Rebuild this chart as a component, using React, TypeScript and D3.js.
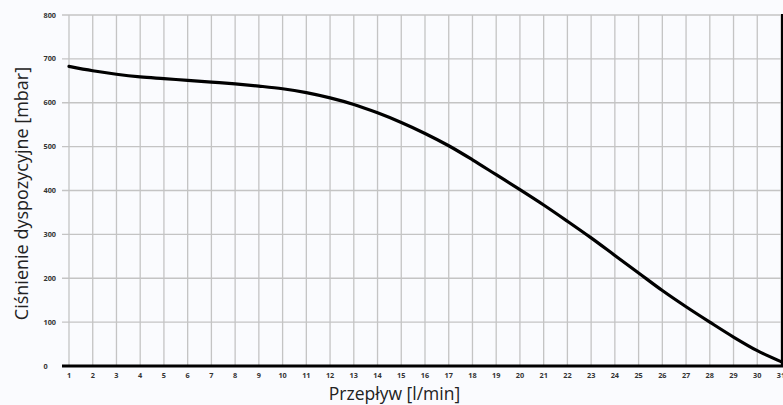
import React from "react";
import * as d3 from "d3";

const flow = [1, 2, 3, 4, 5, 6, 7, 8, 9, 10, 11, 12, 13, 14, 15, 16, 17, 18, 19, 20, 21, 22, 23, 24, 25, 26, 27, 28, 29, 30, 31];
const pressure = [683, 673, 665, 659, 655, 651, 647, 643, 638, 632, 623, 611, 596, 577, 555, 530, 502, 470, 436, 402, 367, 330, 292, 252, 212, 172, 135, 100, 66, 35, 10];
const xTicks = flow;
const yTicks = [0, 100, 200, 300, 400, 500, 600, 700, 800];
const xTitle = "Przepływ [l/min]";
const yTitle = "Ciśnienie dyspozycyjne [mbar]";

const W = 783;
const H = 405;

export default function App() {
  const x = d3.scaleLinear().domain([1, 31]).range([69, 781]);
  const y = d3.scaleLinear().domain([0, 800]).range([366, 15]);
  const pts = flow.map((f, i) => [f, pressure[i]] as [number, number]);
  const line = d3
    .line<[number, number]>()
    .x((d) => x(d[0]))
    .y((d) => y(d[1]))
    .curve(d3.curveCatmullRom.alpha(0.5));
  const font = "'Open Sans', 'DejaVu Sans', sans-serif";
  return (
    <svg
      width={W}
      height={H}
      style={{ position: "absolute", left: 0, top: 0, display: "block", background: "#fafbfe" }}
    >
      <rect x={0} y={0} width={W} height={H} fill="#fafbfe" />
      <g>
        {yTicks.map((t) => (
          <line key={"h" + t} x1={62} x2={W} y1={y(t)} y2={y(t)} stroke="#c4c4c4" strokeWidth={1.3} />
        ))}
        {xTicks.map((t) => (
          <line key={"v" + t} x1={x(t)} x2={x(t)} y1={y(800)} y2={y(0)} stroke="#c4c4c4" strokeWidth={1.3} />
        ))}
      </g>
      <line x1={x(31) + 1} x2={x(31) + 1} y1={y(800) - 1} y2={y(0)} stroke="#000" strokeWidth={2} />
      <path d={line(pts) || ""} fill="none" stroke="#000" strokeWidth={3.2} strokeLinejoin="round" strokeLinecap="round" />
      <line x1={62} x2={W} y1={y(0)} y2={y(0)} stroke="#000" strokeWidth={3} />
      <g fontFamily={font} fontWeight={700} fontSize={7.3} fill="#333">
        {yTicks.map((t) => (
          <text key={"yl" + t} x={43.5} y={y(t)} dy="0.35em" textAnchor="start">
            {t}
          </text>
        ))}
        {xTicks.map((t) => (
          <text key={"xl" + t} x={x(t)} y={375.5} dy="0.35em" textAnchor="middle">
            {t}
          </text>
        ))}
      </g>
      <text x={394.5} y={400} textAnchor="middle" fontFamily={font} fontSize={17.5} fill="#222">
        {xTitle}
      </text>
      <text
        transform={`translate(27.5, 193.5) rotate(-90)`}
        textAnchor="middle"
        fontFamily={font}
        fontSize={18}
        fill="#222"
      >
        {yTitle}
      </text>
    </svg>
  );
}
